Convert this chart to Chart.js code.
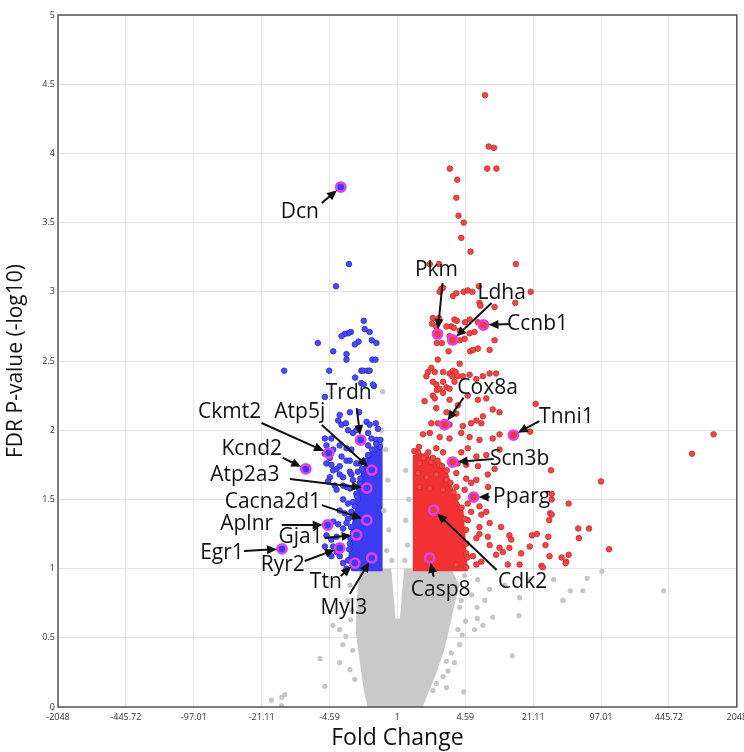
<!DOCTYPE html>
<html lang="en">
<head>
<meta charset="UTF-8">
<title>Volcano plot</title>
<script src="https://cdn.jsdelivr.net/npm/chart.js"></script>
<style>
  html, body { margin: 0; padding: 0; background: #fff; }
  canvas { display: block; }
</style>
</head>
<body>
<canvas id="volcano" width="744" height="752"></canvas>
<script>
// x axis is log2 fold change, labelled with the fold change itself
const xTickPos = [-11, -8.8, -6.6, -4.4, -2.2, 0, 2.2, 4.4, 6.6, 8.8, 11];
const xTickLabels = ['-2048', '-445.72', '-97.01', '-21.11', '-4.59', '1', '4.59', '21.11', '97.01', '445.72', '2048'];

// points as [log2 fold change, -log10 FDR]
const upGenes = [
  [2.84,4.42],[2.96,4.05],[3.13,4.04],[1.70,3.89],[2.91,3.89],[3.21,3.89],[1.94,3.81],[1.91,3.68],[1.98,3.55],[2.15,3.50],
  [2.07,3.39],[2.37,3.29],[1.05,3.20],[1.35,3.20],[3.84,3.20],
  [1.42,3.02],[1.48,3.03],[1.37,3.00],[1.80,2.97],[1.91,2.99],[2.15,3.00],[2.28,3.01],[2.43,3.00],[2.64,3.04],[4.32,3.00],
  [2.66,2.92],[2.69,2.90],[3.15,2.89],[3.82,2.92],
  [1.15,2.81],[1.35,2.81],[1.12,2.77],[1.26,2.75],[1.85,2.80],[1.93,2.79],[2.19,2.78],[2.34,2.80],[2.61,2.78],[1.75,2.75],
  [1.83,2.74],[1.59,2.75],[2.02,2.72],[2.34,2.70],[2.50,2.71],[1.69,2.68],[2.02,2.65],[2.18,2.66],[3.15,2.65],
  [1.28,2.63],[1.44,2.63],[1.66,2.57],[2.36,2.57],[2.45,2.58],[2.61,2.59],[2.99,2.58],[1.31,2.51],[2.02,2.48],
  [1.10,2.45],[0.99,2.42],[0.94,2.39],[1.21,2.42],[1.48,2.42],[1.69,2.41],[1.80,2.43],[1.89,2.42],[1.78,2.39],[1.96,2.39],
  [2.12,2.39],[2.34,2.40],[2.56,2.37],[2.77,2.39],[2.99,2.41],[3.20,2.41],
  [1.48,2.35],[1.26,2.33],[1.59,2.31],[1.28,2.29],[1.15,2.25],[1.69,2.30],[1.15,2.35],[1.37,2.30],[1.85,2.35],
  [0.88,2.21],[1.21,2.23],[1.48,2.27],[1.69,2.22],[1.96,2.18],[1.26,2.16],[1.59,2.13],[1.91,2.12],[2.28,2.25],[2.61,2.22],
  [2.88,2.23],[3.09,2.15],[3.31,2.13],[2.77,2.10],[2.56,2.07],[4.48,2.19],
  [1.10,2.05],[1.31,2.05],[1.69,2.04],[2.12,2.03],[2.39,2.05],[2.72,2.05],
  [0.83,1.97],[1.05,1.98],[1.37,1.95],[1.69,1.94],[2.07,1.98],[2.34,1.95],[2.66,1.93],[3.09,1.94],[3.31,1.97],[4.30,1.99],
  [0.67,1.84],[0.94,1.82],[1.26,1.87],[1.48,1.84],[2.07,1.84],[2.28,1.87],[2.56,1.81],[2.88,1.82],[3.15,1.72],[3.31,1.86],[4.98,1.71],
  [0.72,1.76],[1.10,1.77],[1.37,1.75],[1.96,1.76],[2.23,1.75],[2.61,1.74],
  [0.67,1.69],[0.94,1.66],[1.26,1.68],[1.59,1.64],[1.91,1.69],[2.23,1.65],[2.56,1.64],[2.93,1.68],[2.94,1.59],
  [0.72,1.59],[1.05,1.58],[1.48,1.57],[1.91,1.59],[2.18,1.57],[2.39,1.62],
  [2.28,1.47],[2.66,1.45],[2.88,1.41],[2.39,1.41],[2.72,1.39],[2.99,1.33],[2.66,1.30],[2.28,1.35],[3.36,1.30],[3.63,1.24],
  [5.00,1.54],[5.00,1.50],[6.60,1.63],[5.55,1.47],[4.95,1.40],[5.00,1.39],[4.92,1.35],[5.86,1.29],[6.21,1.29],[5.88,1.22],
  [6.86,1.14],[4.36,1.24],[4.52,1.25],[4.89,1.23],[4.80,1.17],[4.29,1.16],[4.93,1.09],[5.32,1.08],[5.55,1.10],[5.47,1.05],
  [5.45,1.04],[4.67,1.02],[9.55,1.83],[10.25,1.97],
  [3.69,1.21],[2.93,1.23],[2.66,1.25],[2.18,1.18],[2.56,1.22],[2.99,1.17],[4.01,1.11],[3.63,1.15],[3.31,1.15],[4.71,1.01],
  [3.96,1.03],[3.58,1.03],[3.20,1.10],[3.42,1.12],[2.23,1.11],[2.45,1.09],[2.72,1.05],[1.91,1.03],[2.23,1.01],[2.56,1.03],
  // ragged top of the packed block
  [0.55,1.85],[0.70,1.88],[0.85,1.80],[1.00,1.84],[1.15,1.80],[1.30,1.78],[1.45,1.74],[1.60,1.71],[1.72,1.62],[1.82,1.55],
  [1.95,1.52],[2.08,1.44],[2.18,1.36],[2.22,1.28],[2.24,1.18],[2.27,1.08]
];

const downGenes = [
  [-1.57,3.20],[-1.99,3.04],[-1.09,2.79],[-1.06,2.73],[-1.51,2.71],[-1.60,2.70],[-1.71,2.695],[-1.81,2.68],[-0.90,2.71],
  [-0.83,2.65],[-0.68,2.63],[-1.26,2.64],[-1.38,2.62],[-2.58,2.63],[-2.08,2.57],[-1.65,2.55],[-1.65,2.51],[-0.81,2.51],
  [-0.71,2.51],[-3.67,2.43],[-2.21,2.43],[-1.17,2.43],[-1.11,2.43],[-0.97,2.43],[-0.90,2.43],[-1.37,2.38],[-1.17,2.34],
  [-1.09,2.33],[-0.76,2.32],[-2.35,2.24],[-0.79,2.33],
  [-1.87,2.11],[-1.54,2.13],[-1.24,2.13],[-1.92,2.07],[-1.81,2.04],[-1.67,2.05],[-1.60,2.00],[-1.00,2.06],[-0.90,2.04],
  [-0.70,2.05],[-0.63,2.01],
  [-0.95,1.98],[-0.84,1.94],[-0.68,1.91],[-1.44,1.98],[-1.33,2.00],[-2.35,1.94],[-2.30,1.89],
  [-1.65,1.78],[-1.87,1.74],[-2.08,1.71],[-1.54,1.70],[-1.76,1.66],[-1.44,1.64],[-1.65,1.59],[-1.33,1.54],[-1.97,1.57],
  [-0.68,1.93],[-0.95,1.89],[-0.73,1.86],[-0.57,1.88],[-1.22,1.76],[-1.11,1.71],
  [-2.35,1.83],[-2.19,1.80],[-2.30,1.76],[-1.87,1.89],[-1.65,1.87],[-1.81,1.81],[-1.49,1.86],[-1.54,1.78],[-2.14,1.75],
  [-1.97,1.72],[-1.33,1.76],[-1.87,1.68],[-1.49,1.68],[-1.28,1.70],[-2.19,1.66],[-2.25,1.63],[-2.03,1.60],[-1.76,1.60],
  [-1.54,1.58],[-1.22,1.62],[-1.76,1.50],[-1.60,1.47],[-1.44,1.48],[-1.28,1.50],[-1.87,1.42],[-1.71,1.40],[-1.49,1.41],
  [-1.60,1.36],[-1.38,1.37],[-2.08,1.34],[-1.92,1.32],[-1.76,1.29],[-1.65,1.33],[-2.30,1.24],[-2.14,1.21],[-1.97,1.23],
  [-2.35,1.16],[-2.08,1.16],[-1.97,1.12],[-1.87,1.09],[-2.14,1.09],[-1.76,1.04],[-1.65,1.00],[-1.60,1.06],[-2.14,1.94],
  [-2.08,1.86],[-1.81,1.16],[-1.54,1.18],[-1.44,1.26],
  // ragged edge of the packed block
  [-0.55,1.93],[-0.68,1.90],[-0.82,1.86],[-0.95,1.82],[-1.05,1.78],[-1.15,1.72],[-1.20,1.65],[-1.25,1.58],[-1.30,1.52],
  [-1.38,1.45],[-1.45,1.38],[-1.50,1.30],[-1.52,1.22],[-1.56,1.14],[-1.58,1.06]
];

const nsGenes = [
  [-2.09,0.59],[-1.87,0.56],[-1.67,0.51],[-1.51,0.63],[-1.77,0.45],[-2.51,0.35],[-1.87,0.32],[-1.54,0.27],[-2.35,0.15],
  [-4.08,0.05],[-3.75,0.07],[-3.65,0.09],[-3.75,0.01],[-1.45,0.41],[-1.38,0.20],[-1.61,0.77],[-1.54,0.88],[-1.48,0.70],
  [2.58,0.72],[2.59,0.64],[3.09,0.65],[3.94,0.66],[2.77,0.59],[2.50,0.56],[2.21,0.62],[1.96,0.56],[2.10,0.52],[2.02,0.45],
  [1.75,0.39],[1.85,0.32],[1.59,0.33],[1.64,0.26],[1.48,0.22],[1.59,0.14],[2.15,0.11],[3.72,0.37],[1.26,0.17],[1.15,0.12],
  [5.36,0.77],[2.02,0.72],[2.07,0.77],[6.63,0.98],[5.06,0.92],[6.15,0.93],[5.60,0.84],[6.01,0.84],[5.37,0.77],[8.63,0.84],
  [2.60,0.92],[2.99,0.85],[3.48,0.88],[3.96,0.79],[2.40,0.81],[2.83,0.77],[4.28,0.92],[2.18,0.95],
  [-0.48,2.28],[-0.51,2.00],[-0.38,1.86],[-0.31,1.64],[-0.44,1.42],[-0.28,1.28],[-0.35,1.13],[-0.18,1.06],
  [0.27,1.35],[0.33,1.17],[0.24,1.06],[0.37,1.50],[0.27,1.71]
];

// outlines of the regions where points are packed solid
const nsCloud = [
  [-1.22,0.99],[-0.41,1.00],[-0.20,1.00],[-0.06,0.64],[0.08,0.64],[0.22,1.00],[0.40,1.00],[1.76,0.99],[2.02,0.88],
  [1.85,0.74],[1.69,0.57],[1.50,0.40],[1.24,0.23],[0.98,0.09],[0.82,0],[-0.96,0],[-1.09,0.12],[-1.22,0.33],
  [-1.35,0.54],[-1.32,0.77]
];
const downCore = [
  [-0.48,0.98],[-1.48,0.98],[-1.61,1.06],[-1.54,1.17],[-1.48,1.32],[-1.35,1.46],[-1.25,1.57],[-1.19,1.68],[-1.06,1.77],
  [-0.90,1.84],[-0.70,1.89],[-0.48,1.91]
];
const upCore = [
  [0.50,0.98],[0.50,1.82],[0.72,1.84],[1.05,1.81],[1.37,1.76],[1.63,1.70],[1.76,1.60],[1.95,1.50],[2.15,1.41],
  [2.21,1.21],[2.28,0.98]
];

// labelled genes
const geneNames = ['Dcn','Pkm','Ldha','Ccnb1','Cox8a','Tnni1','Scn3b','Pparg','Cdk2','Casp8','Trdn','Ckmt2','Kcnd2',
  'Atp5j','Atp2a3','Cacna2d1','Aplnr','Gja1','Egr1','Ryr2','Ttn','Myl3'];
const geneFC = [-1.835, 1.30, 1.79, 2.79, 1.53, 3.76, 1.79, 2.47, 1.175, 1.045, -1.19, -2.23, -2.97,
  -0.83, -0.99, -0.99, -2.26, -1.32, -3.74, -1.87, -1.38, -0.83];
const geneP = [3.757, 2.695, 2.652, 2.76, 2.04, 1.965, 1.77, 1.517, 1.423, 1.077, 1.929, 1.835, 1.72,
  1.712, 1.582, 1.35, 1.315, 1.243, 1.142, 1.149, 1.04, 1.077];

// where each callout sits relative to its point (px): text dx, dy, arrow tail dx, dy
const calloutPos = {
  Dcn: [-41, 25, -19, 16], Pkm: [-1, -64, 5, -51], Ldha: [49, -47, 39, -37], Ccnb1: [54, -1, 27, -1],
  Cox8a: [43, -37, 19, -27], Tnni1: [53, -18, 26, -14], Scn3b: [67, -3, 41, -3], Pparg: [48, 0, 16, 0],
  Cdk2: [89, 72, 63, 60], Casp8: [11, 32, 4, 19], Trdn: [-12, -47, -4, -32], Ckmt2: [-99, -41, -67, -30],
  Kcnd2: [-54, -20, -23, -11], Atp5j: [-72, -58, -50, -45], Atp2a3: [-122, -13, -77, -9],
  Cacna2d1: [-94, -18, -45, -15], Aplnr: [-81, -1, -46, 0], Gja1: [-56, 2, -32, 3], Egr1: [-60, 4, -38, 2],
  Ryr2: [-57, 17, -35, 13], Ttn: [-29, 19, -14, 13], Myl3: [-28, 50, -22, 36]
};

const toPts = list => list.map(([fc, p]) => ({x: fc, y: p}));

// solid areas under the points
const denseAreas = {
  id: 'denseAreas',
  beforeDatasetsDraw(chart) {
    const {ctx, scales: {x, y}, chartArea: a} = chart;
    ctx.save();
    ctx.beginPath();
    ctx.rect(a.left, a.top, a.width, a.height);
    ctx.clip();
    [[nsCloud, '#c9c9c9'], [downCore, '#3b3bef'], [upCore, '#f23232']].forEach(([pts, col]) => {
      ctx.beginPath();
      pts.forEach(([fc, p], i) => {
        const px = x.getPixelForValue(fc), py = y.getPixelForValue(p);
        if (i) ctx.lineTo(px, py); else ctx.moveTo(px, py);
      });
      ctx.closePath();
      ctx.fillStyle = col;
      ctx.fill();
    });
    ctx.restore();
  }
};

// frame round the plot + gene callouts
const callouts = {
  id: 'callouts',
  afterDatasetsDraw(chart) {
    const {ctx, scales: {x, y}, chartArea: a} = chart;
    ctx.save();
    ctx.strokeStyle = '#555';
    ctx.lineWidth = 1.5;
    ctx.strokeRect(a.left, a.top, a.width, a.height);

    ctx.font = '21px "Open Sans"';
    ctx.textAlign = 'center';
    ctx.textBaseline = 'middle';
    ctx.fillStyle = '#111';
    ctx.strokeStyle = '#111';
    ctx.lineWidth = 2;
    geneNames.forEach((name, i) => {
      const px = x.getPixelForValue(geneFC[i]);
      const py = y.getPixelForValue(geneP[i]);
      const [tx, ty, ax, ay] = calloutPos[name];
      ctx.fillText(name, px + tx, py + ty);

      const sx = px + ax, sy = py + ay;
      const ang = Math.atan2(py - sy, px - sx);
      const c = Math.cos(ang), s = Math.sin(ang);
      const ex = px - c * 5, ey = py - s * 5;
      ctx.beginPath();
      ctx.moveTo(sx, sy);
      ctx.lineTo(ex - c * 7, ey - s * 7);
      ctx.stroke();
      ctx.beginPath();
      ctx.moveTo(ex, ey);
      ctx.lineTo(ex - c * 10 + s * 4.5, ey - s * 10 - c * 4.5);
      ctx.lineTo(ex - c * 10 - s * 4.5, ey - s * 10 + c * 4.5);
      ctx.closePath();
      ctx.fill();
    });
    ctx.restore();
  }
};

new Chart(document.getElementById('volcano'), {
  type: 'scatter',
  data: {
    datasets: [
      {
        label: 'labelled',
        data: geneFC.map((fc, i) => ({x: fc, y: geneP[i]})),
        pointRadius: 4.6,
        borderWidth: 2.6,
        borderColor: '#e03ff2',
        backgroundColor: geneFC.map(fc => fc < 0 ? '#3d3df5' : '#f03a3a'),
        order: 1
      },
      {
        label: 'up',
        data: toPts(upGenes),
        pointRadius: 2.8,
        borderWidth: 0.8,
        borderColor: '#c82c2c',
        backgroundColor: '#f24545',
        order: 2
      },
      {
        label: 'down',
        data: toPts(downGenes),
        pointRadius: 2.8,
        borderWidth: 0.8,
        borderColor: '#2a2ac4',
        backgroundColor: '#4a4aff',
        order: 2
      },
      {
        label: 'not significant',
        data: toPts(nsGenes),
        pointRadius: 2.6,
        borderWidth: 0,
        backgroundColor: '#c6c6c6',
        order: 3
      }
    ]
  },
  options: {
    responsive: false,
    animation: false,
    events: [],
    layout: { padding: { top: 15, right: 6, left: 0, bottom: 0 } },
    plugins: { legend: { display: false }, tooltip: { enabled: false } },
    scales: {
      x: {
        type: 'linear',
        min: -11,
        max: 11,
        afterBuildTicks: s => { s.ticks = xTickPos.map(v => ({ value: v })); },
        afterFit: s => { s.height = 45; s.paddingLeft = 0; s.paddingRight = 0; },
        grid: { color: '#e4e4e4', drawTicks: false },
        border: { display: false },
        ticks: {
          autoSkip: false, maxRotation: 0, padding: 5, color: '#333',
          font: { size: 9, family: 'Open Sans' },
          callback: (v, i) => xTickLabels[i]
        },
        title: {
          display: true, text: 'Fold Change', color: '#111',
          font: { size: 23, family: 'Open Sans' }, padding: { top: 0, bottom: 0 }
        }
      },
      y: {
        min: 0,
        max: 5,
        afterFit: s => { s.width = 58; s.paddingTop = 0; s.paddingBottom = 0; },
        grid: { color: '#e4e4e4', drawTicks: false },
        border: { display: false },
        ticks: {
          stepSize: 0.5, padding: 3, color: '#333', font: { size: 9, family: 'Open Sans' },
          callback: v => String(+v.toFixed(1))
        },
        title: {
          display: true, text: 'FDR P-value (-log10)', color: '#111',
          font: { size: 21, family: 'Open Sans' }, padding: { top: 3.5, bottom: 0 }
        }
      }
    }
  },
  plugins: [denseAreas, callouts]
});
</script>
</body>
</html>
